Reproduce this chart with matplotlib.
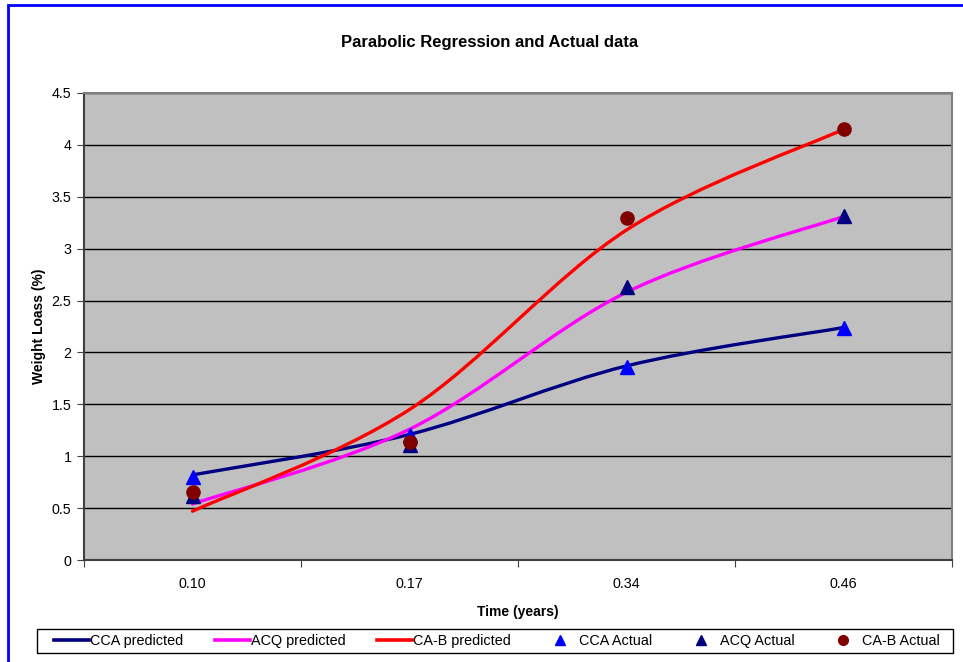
import numpy as np
import matplotlib
matplotlib.use("Agg")
import matplotlib.pyplot as plt
from matplotlib.path import Path
from matplotlib.patches import PathPatch, Rectangle
from matplotlib.lines import Line2D

plt.rcParams["font.family"] = ["Liberation Sans", "DejaVu Sans"]

# data
times = ["0.10", "0.17", "0.34", "0.46"]
cca_pred = [0.82, 1.21, 1.87, 2.24]
acq_pred = [0.54, 1.26, 2.58, 3.31]
cab_pred = [0.47, 1.45, 3.18, 4.15]
cca_act = [0.80, 1.20, 1.86, 2.24]
acq_act = [0.62, 1.11, 2.63, 3.31]
cab_act = [0.66, 1.14, 3.30, 4.15]


def smooth_path(xs, ys):
    # Excel-style smoothed line: cubic Bezier segments (Catmull-Rom control points)
    pts = np.column_stack([xs, ys]).astype(float)
    ext = np.vstack([pts[0], pts, pts[-1]])
    verts = [pts[0]]
    codes = [Path.MOVETO]
    for i in range(len(pts) - 1):
        p0, p1, p2, p3 = ext[i], ext[i + 1], ext[i + 2], ext[i + 3]
        verts += [p1 + (p2 - p0) / 6, p2 - (p3 - p1) / 6, p2]
        codes += [Path.CURVE4] * 3
    return Path(verts, codes)


fig = plt.figure(figsize=(9.63, 6.62), dpi=100)
ax = fig.add_axes([84 / 963, 1 - 560 / 662, (952 - 84) / 963, (560 - 93) / 662])
ax.set_facecolor("#C0C0C0")

x = np.arange(len(times))
pred_series = [
    (cca_pred, "#000080", "CCA predicted"),
    (acq_pred, "#FF00FF", "ACQ predicted"),
    (cab_pred, "#FF0000", "CA-B predicted"),
]
handles = []
for vals, color, label in pred_series:
    ax.add_patch(PathPatch(smooth_path(x, vals), facecolor="none", edgecolor=color,
                           lw=2.4, capstyle="round", joinstyle="round", zorder=3))
    handles.append(Line2D([], [], color=color, lw=2.6, label=label))

act_series = [
    (cca_act, "#0000FF", "^", "CCA Actual"),
    (acq_act, "#000080", "^", "ACQ Actual"),
    (cab_act, "#800000", "o", "CA-B Actual"),
]
for vals, color, marker, label in act_series:
    ax.plot(x, vals, linestyle="none", marker=marker, ms=9.5, color=color,
            markeredgecolor=color, zorder=4, label=label)
    handles.append(Line2D([], [], linestyle="none", marker=marker, ms=7, color=color, label=label))

ax.set_xlim(-0.5, len(times) - 0.5)
ax.set_ylim(0, 4.5)
ax.set_yticks(np.arange(0, 4.51, 0.5))
ax.set_yticklabels(["0", "0.5", "1", "1.5", "2", "2.5", "3", "3.5", "4", "4.5"])
ax.yaxis.grid(True, color="black", lw=1)
ax.set_axisbelow(True)

ax.set_xticks(np.arange(-0.5, len(times), 1.0))
ax.set_xticklabels([])
ax.set_xticks(x, minor=True)
ax.set_xticklabels(times, minor=True)
ax.tick_params(axis="x", which="minor", length=0, pad=12, labelsize=10.3)
ax.tick_params(axis="x", which="major", length=5, color="#404040", direction="out")
ax.tick_params(axis="y", length=5, color="#404040", direction="out", labelsize=10.3, pad=4)

for side in ["top", "right"]:
    ax.spines[side].set_color("#808080")
    ax.spines[side].set_linewidth(1.5)
for side in ["left", "bottom"]:
    ax.spines[side].set_color("#404040")
    ax.spines[side].set_linewidth(1.5)

ax.set_ylabel("Weight Loass (%)", fontsize=10, fontweight="bold", labelpad=4)
ax.set_xlabel("Time (years)", fontsize=10, fontweight="bold", labelpad=10)
fig.text(490 / 963, 1 - 42 / 662, "Parabolic Regression and Actual data",
         ha="center", va="center", fontsize=12, fontweight="bold")

# legend entries spread across the box; the box itself is drawn separately
leg = fig.legend(handles=handles, loc="center", ncol=6, mode="expand",
                 bbox_to_anchor=(54 / 963, 1 - 653 / 662, (940 - 54) / 963, 24 / 662),
                 fontsize=10.4, frameon=False, handlelength=2.4,
                 handletextpad=0.1, borderpad=0.0, borderaxespad=0)
fig.patches.append(Rectangle((37 / 963, 1 - 653 / 662), (953 - 37) / 963, 24 / 662,
                             transform=fig.transFigure, fill=True, facecolor="white",
                             edgecolor="black", lw=1, zorder=0))

# blue chart-area border (right/bottom run off the image as in the reference)
fig.patches.append(Rectangle((8 / 963, -0.2), 1.2, 1.2 - 5 / 662,
                             transform=fig.transFigure, fill=False,
                             edgecolor="#0000FF", lw=2, clip_on=False))

fig.savefig("out.png", dpi=100)
